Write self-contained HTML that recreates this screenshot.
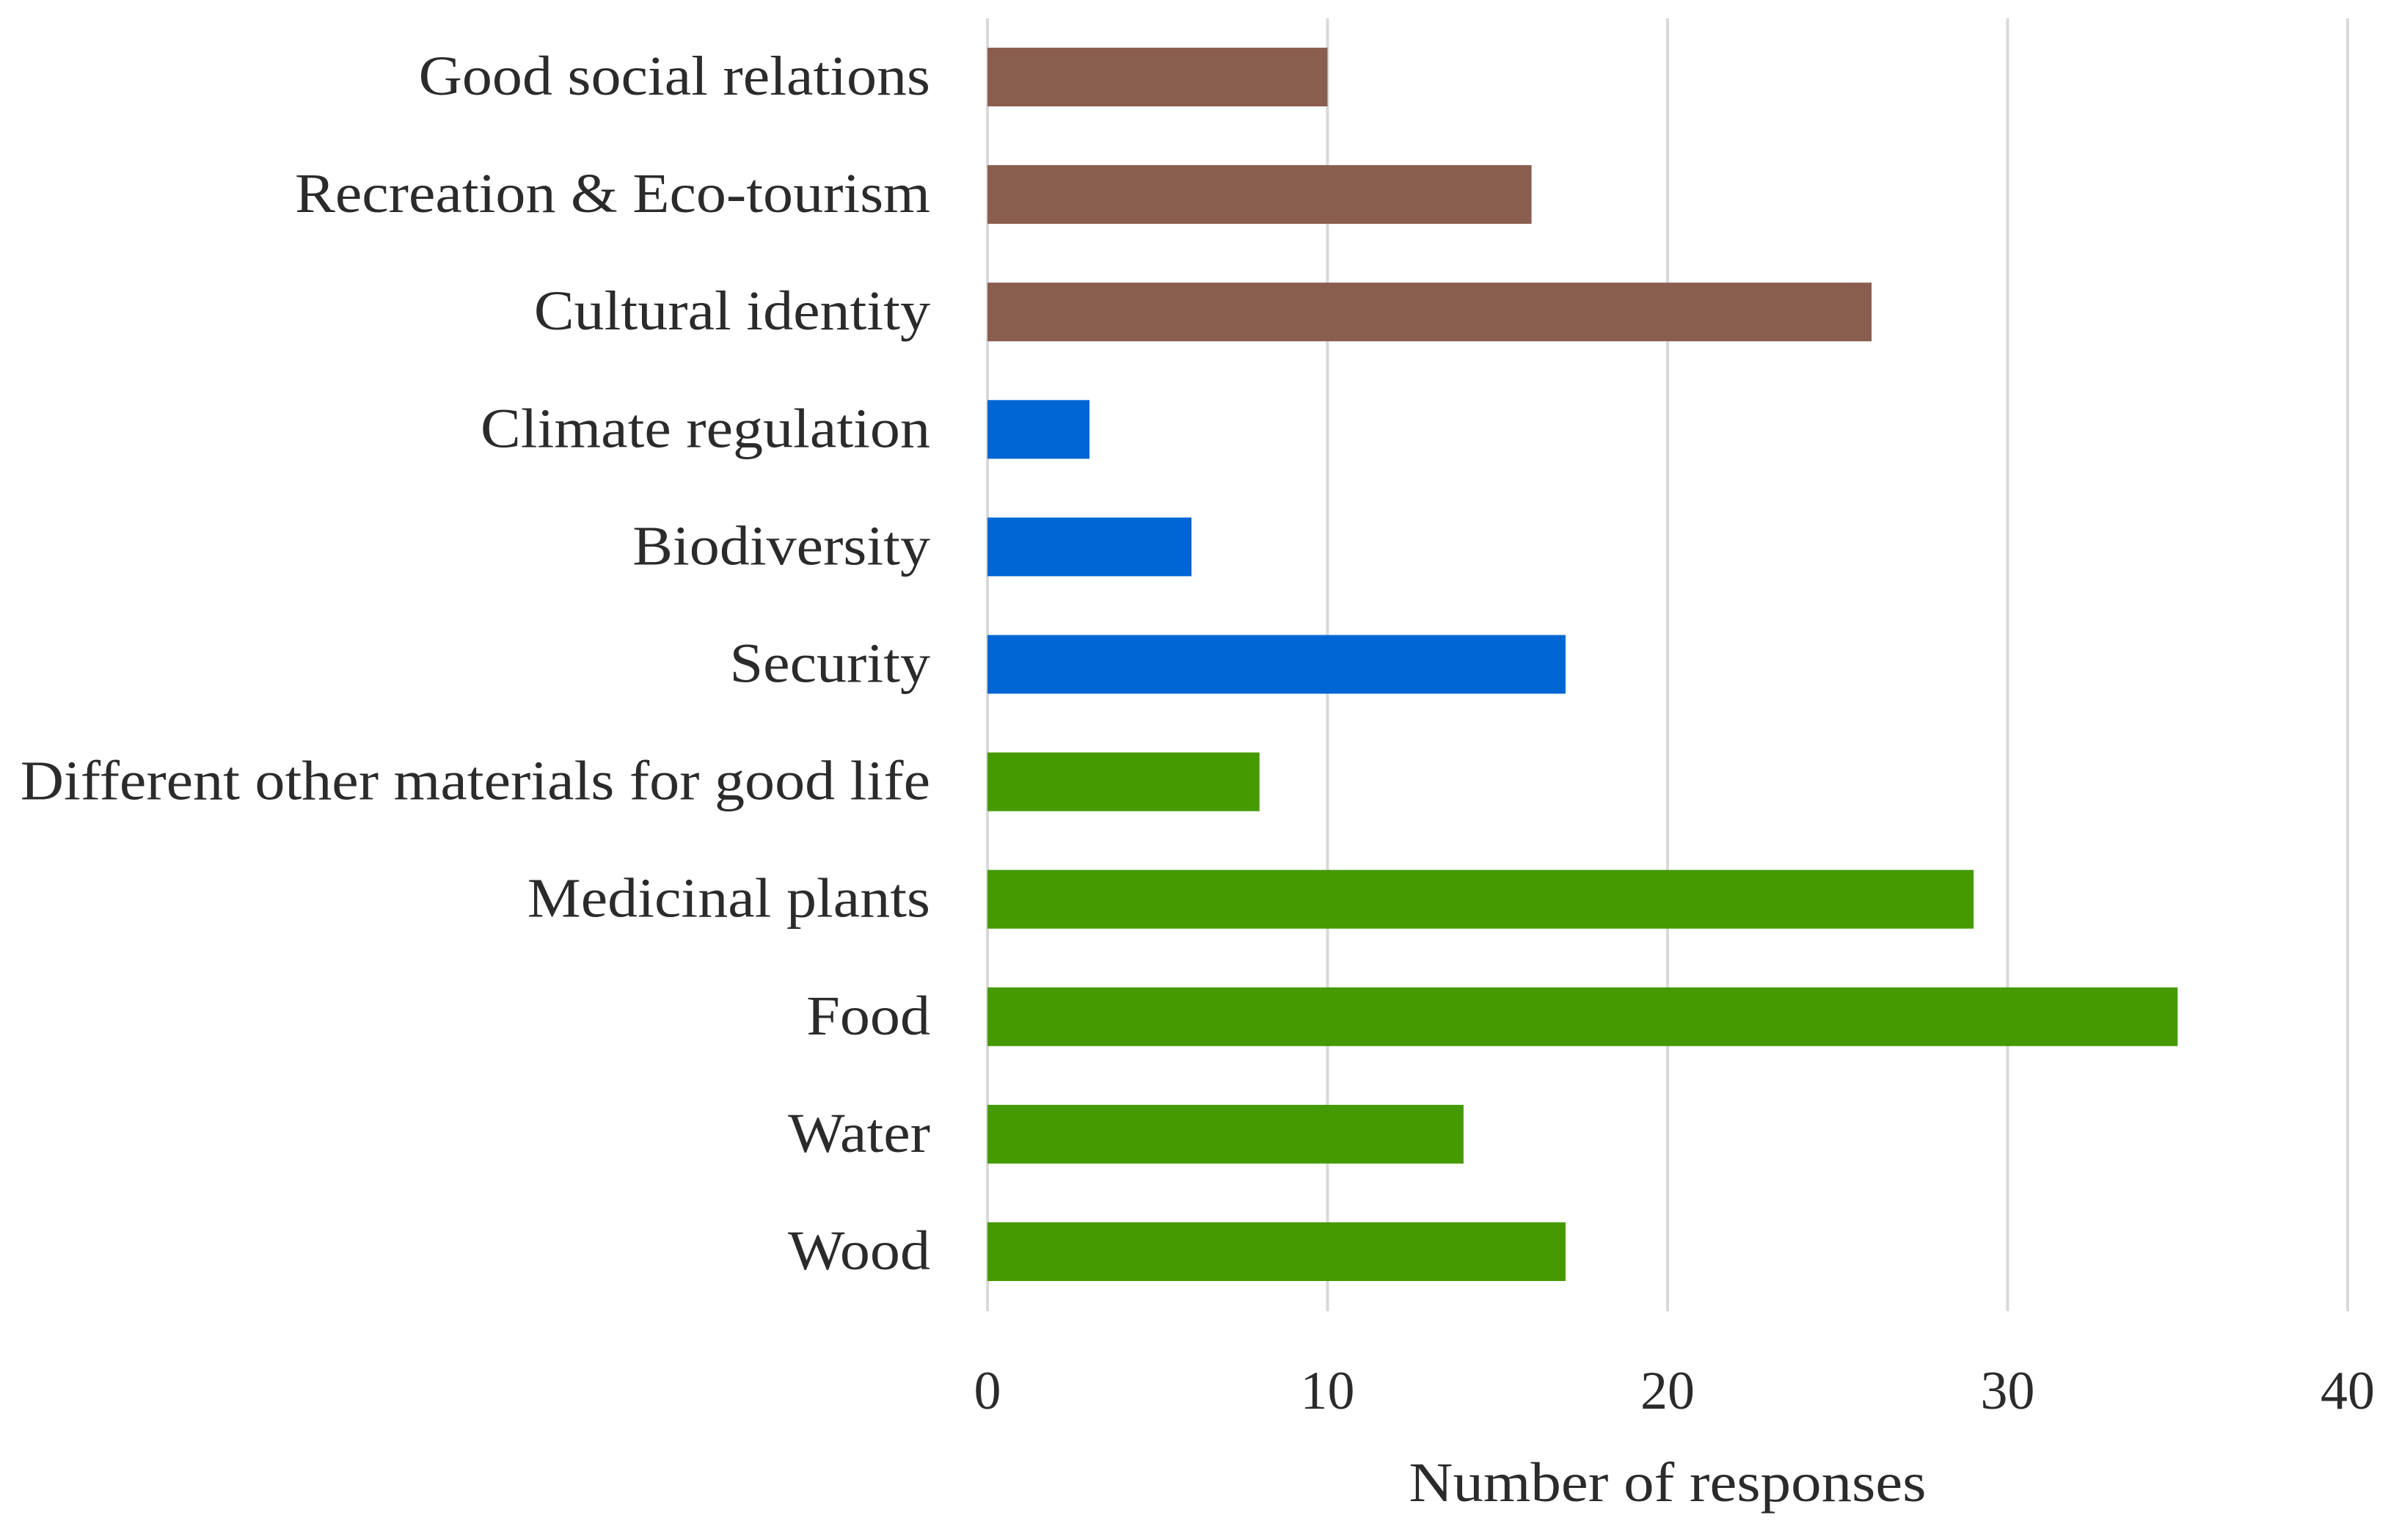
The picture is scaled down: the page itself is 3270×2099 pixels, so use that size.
<!DOCTYPE html>
<html><head><meta charset="utf-8"><style>
html,body{margin:0;padding:0;background:#fff;}
svg{display:block;}
text{font-family:"Liberation Serif",serif;fill:#2b2b2b;}
</style></head><body>
<svg id="chart" width="3270" height="2099" viewBox="0 0 3270 2099" xmlns="http://www.w3.org/2000/svg">
<g id="grid"></g>
<g id="bars"></g>
<g id="ylabels"></g>
<g id="xlabels"></g>
<text x="2273" y="2046" font-size="76" text-anchor="middle" textLength="705" lengthAdjust="spacingAndGlyphs">Number of responses</text>
</svg>
<script>
const categories = ["Good social relations","Recreation & Eco-tourism","Cultural identity","Climate regulation","Biodiversity","Security","Different other materials for good life","Medicinal plants","Food","Water","Wood"];
const values = [10,16,26,3,6,17,8,29,35,14,17];
const groups = ["social","social","social","regulating","regulating","regulating","provisioning","provisioning","provisioning","provisioning","provisioning"];
const ticks = [0,10,20,30,40];
const colors = {social:"#8a5e4f",regulating:"#0066d4",provisioning:"#449a00"};
const NS="http://www.w3.org/2000/svg";
const x0=1346, x1=3200, xmax=40;
const xs = v => x0 + (v/xmax)*(x1-x0);
const band=160.1, top0=65, barH=80;
const yc = i => top0 + barH/2 + i*band;
const grid=document.getElementById('grid'), bars=document.getElementById('bars'), yl=document.getElementById('ylabels'), xl=document.getElementById('xlabels');
ticks.forEach(t=>{
  const l=document.createElementNS(NS,'line');
  l.setAttribute('x1',xs(t));l.setAttribute('x2',xs(t));l.setAttribute('y1',25);l.setAttribute('y2',1787);
  l.setAttribute('stroke','#d9d9d9');l.setAttribute('stroke-width','4');
  
  
  grid.appendChild(l);
  const tx=document.createElementNS(NS,'text');
  tx.setAttribute('x',xs(t));tx.setAttribute('y',1920);tx.setAttribute('font-size','74');tx.setAttribute('text-anchor','middle');
  tx.textContent=t;
  
  
  xl.appendChild(tx);
});
categories.forEach((c,i)=>{
  const r=document.createElementNS(NS,'rect');
  r.setAttribute('x',xs(0));r.setAttribute('y',yc(i)-barH/2);r.setAttribute('width',xs(values[i])-xs(0));r.setAttribute('height',barH);
  r.setAttribute('fill',colors[groups[i]]);
  
  
  bars.appendChild(r);
  const t=document.createElementNS(NS,'text');
  t.setAttribute('x',1268);t.setAttribute('y',yc(i)+24);t.setAttribute('font-size','76');t.setAttribute('text-anchor','end');
  t.setAttribute('transform','translate(1268 0) scale(1.08 1) translate(-1268 0)');
  t.textContent=c;
  
  
  yl.appendChild(t);
});
</script>
</body></html>
